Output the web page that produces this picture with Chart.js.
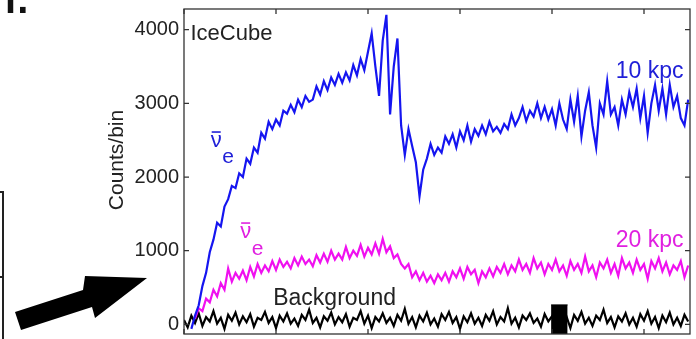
<!DOCTYPE html>
<html lang="en">
<head>
<meta charset="UTF-8">
<title>IceCube counts per bin</title>
<script src="https://cdn.jsdelivr.net/npm/chart.js@4.4.1/dist/chart.umd.min.js"></script>
<style>
    html, body { margin: 0; padding: 0; background: #fff; }
    #wrap { width: 696px; height: 339px; }
</style>
</head>
<body>
<div id="wrap"><canvas id="countsChart" width="696" height="339"></canvas></div>
<script>
// time bins (ms) and axis ranges
const BIN_MS = 4;
const X_MIN = 0;
const X_MAX = 550;
const Y_MIN = -130;
const Y_MAX = 4280;
const yTicks = [0, 1000, 2000, 3000, 4000];
const xTicks = [0, 100, 200, 300, 400, 500];

// anti-nu_e counts per bin, source at 10 kpc
const counts10kpc = [
    null, null, -60, 120, 260, 520, 700, 980, 1150, 1380,
    1330, 1600, 1700, 1880, 1850, 2050, 2000, 2250, 2180, 2400,
    2330, 2600, 2520, 2750, 2650, 2780, 2700, 2900, 2860, 2980,
    2880, 3050, 2950, 3100, 3020, 3050, 3230, 3120, 3300, 3180,
    3350, 3250, 3400, 3280, 3420, 3310, 3520, 3380, 3600, 3450,
    3700, 3950, 3500, 3100, 3850, 4200, 2850, 3500, 3880, 2700,
    2300, 2650, 2420, 2200, 1740, 2100, 2250, 2450, 2300, 2400,
    2330, 2550, 2450, 2580, 2400, 2620, 2500, 2700, 2480, 2650,
    2560, 2700, 2580, 2750, 2620, 2680, 2600, 2720, 2650, 2850,
    2700, 2800, 2950, 2760, 2900, 2820, 3000, 2800, 2950, 2780,
    2920, 2700, 3000, 2780, 2650, 3050, 2750, 3100, 2550, 2900,
    3150, 2700, 2400, 3000, 2850, 3300, 2850, 2950, 2700, 3050,
    2850, 3150, 2950, 3200, 2800, 3100, 2600, 3000, 3250, 2900,
    3200, 2850, 3250, 2950, 3100, 2800, 2700, 3050
];

// anti-nu_e counts per bin, source at 20 kpc
const counts20kpc = [
    null, null, null, 80, 220, 180, 350, 300, 470, 380,
    560, 470, 760, 580, 700, 620, 730, 600, 780, 650,
    820, 700, 800, 720, 860, 740, 880, 780, 850, 760,
    900, 800, 920, 820, 880, 790, 940, 840, 960, 850,
    1000, 880, 960, 880, 1050, 900, 1000, 930, 1080, 920,
    1040, 950, 1100, 960, 1160, 980, 1060, 900, 950, 820,
    760, 820, 640, 720, 600, 700, 580, 660, 560, 680,
    600, 700, 580, 720, 640, 760, 620, 780, 680, 740,
    560, 720, 640, 760, 650, 780, 700, 820, 680, 800,
    720, 880, 740, 820, 700, 900, 760, 840, 680, 820,
    740, 880, 720, 800, 660, 860, 740, 820, 700, 920,
    720, 800, 640, 840, 760, 880, 700, 820, 660, 900,
    760, 840, 700, 880, 740, 820, 620, 860, 760, 900,
    720, 840, 680, 800, 740, 860, 640, 800
];

// detector background counts per bin
const background = [
    60, -40, 120, 20, 150, -20, 100, 40, 180, 10,
    90, -60, 130, 50, 160, 0, 110, 30, 140, -30,
    90, 60, 170, 20, 100, -50, 120, 40, 150, 10,
    80, -20, 130, 60, 200, 20, 90, -40, 110, 50,
    160, 0, 100, 30, 140, -30, 90, 60, 180, 10,
    120, -50, 100, 40, 150, 20, 90, -20, 130, 50,
    210, 10, 100, -40, 120, 40, 160, 0, 80, -30,
    140, 60, 170, 20, 100, -60, 110, 30, 150, 10,
    90, -20, 130, 50, 180, 0, 100, 40, 220, 10,
    90, -40, 120, 60, 150, 20, 80, -30, 140, 40,
    110, 0, 160, 30, 100, -50, 130, 50, 170, 10,
    90, -20, 120, 60, 200, 20, 100, -40, 110, 40,
    150, 0, 90, -30, 140, 50, 180, 10, 100, -50,
    120, 30, 160, 0, 90, -20, 130, 40
];

// solid black block on the background trace
const blockTimes = [399, 417];
const blockLevel = 265;

// text placed in data coordinates (alphabetic baseline); bar = overline
const notes = [
    { text: 'IceCube', x: 7, y: 3860, color: '#222', font: '22px', align: 'left' },
    { text: '10 kpc', x: 543, y: 3345, color: '#2020d8', font: '23px', align: 'right' },
    { text: '20 kpc', x: 543, y: 1055, color: '#e020e0', font: '23px', align: 'right' },
    { text: 'Background', x: 97, y: 263, color: '#222', font: '23px', align: 'left' },
    { text: 'ν', x: 35, y: 2407, color: '#2020d8', font: '22px', align: 'center', bar: true },
    { text: 'e', x: 48, y: 2190, color: '#2020d8', font: '21px', align: 'center' },
    { text: 'ν', x: 67, y: 1172, color: '#e020e0', font: '22px', align: 'center', bar: true },
    { text: 'e', x: 80, y: 942, color: '#e020e0', font: '21px', align: 'center' }
];

const FONT = "'Liberation Sans', Arial, sans-serif";
const TICK_LEN = 5;

const toPoints = (values) => values.map((v, i) => ({ x: i * BIN_MS, y: v }));

const framePlugin = {
    id: 'frame',
    afterDatasetsDraw(chart) {
        const { ctx, chartArea: a, scales: { x, y } } = chart;
        ctx.save();

        // box and inward ticks on all four sides
        ctx.strokeStyle = '#333';
        ctx.lineWidth = 1.3;
        ctx.strokeRect(a.left, a.top, a.right - a.left, a.bottom - a.top);
        ctx.beginPath();
        yTicks.forEach(v => {
            const py = y.getPixelForValue(v);
            ctx.moveTo(a.left, py);
            ctx.lineTo(a.left + TICK_LEN, py);
            ctx.moveTo(a.right, py);
            ctx.lineTo(a.right - TICK_LEN, py);
        });
        xTicks.forEach(v => {
            const px = x.getPixelForValue(v);
            ctx.moveTo(px, a.top);
            ctx.lineTo(px, a.top + TICK_LEN);
            ctx.moveTo(px, a.bottom);
            ctx.lineTo(px, a.bottom - TICK_LEN);
        });
        ctx.stroke();

        // in-plot labels
        ctx.textBaseline = 'alphabetic';
        notes.forEach(n => {
            const px = x.getPixelForValue(n.x);
            const py = y.getPixelForValue(n.y);
            ctx.font = `${n.font} ${FONT}`;
            ctx.fillStyle = n.color;
            ctx.textAlign = n.align;
            ctx.fillText(n.text, px, py);
            if (n.bar) {
                const w = ctx.measureText(n.text).width;
                ctx.strokeStyle = n.color;
                ctx.lineWidth = 1.6;
                ctx.beginPath();
                ctx.moveTo(px - w / 2 + 1, py - 15);
                ctx.lineTo(px + w / 2 - 1, py - 15);
                ctx.stroke();
            }
        });

        // y axis title
        ctx.save();
        ctx.translate(a.left - 67, a.top + 151);
        ctx.rotate(-Math.PI / 2);
        ctx.font = `21px ${FONT}`;
        ctx.fillStyle = '#222';
        ctx.textAlign = 'center';
        ctx.textBaseline = 'middle';
        ctx.fillText('Counts/bin', 0, 0);
        ctx.restore();

        ctx.restore();
    },
    afterDraw(chart) {
        const { ctx } = chart;
        ctx.save();

        // panel letter, mostly cut off at the top
        ctx.fillStyle = '#111';
        ctx.font = `bold 40px ${FONT}`;
        ctx.textAlign = 'left';
        ctx.textBaseline = 'alphabetic';
        ctx.fillText('f.', 4, 13);

        // edge of the neighbouring panel
        ctx.strokeStyle = '#222';
        ctx.lineWidth = 2;
        ctx.beginPath();
        ctx.moveTo(0, 192);
        ctx.lineTo(3, 192);
        ctx.lineTo(3, 339);
        ctx.moveTo(0, 277);
        ctx.lineTo(3, 277);
        ctx.stroke();

        // arrow pointing at the panel
        ctx.fillStyle = '#000';
        ctx.beginPath();
        ctx.moveTo(15, 312);
        ctx.lineTo(83, 290);
        ctx.lineTo(85, 276);
        ctx.lineTo(147, 278);
        ctx.lineTo(95, 318);
        ctx.lineTo(92, 307);
        ctx.lineTo(21, 330);
        ctx.closePath();
        ctx.fill();

        ctx.restore();
    }
};

document.addEventListener('DOMContentLoaded', () => {
    const ctx = document.getElementById('countsChart').getContext('2d');
    Chart.defaults.font.family = FONT;

    new Chart(ctx, {
        type: 'line',
        data: {
            datasets: [
                {
                    label: '10 kpc',
                    data: toPoints(counts10kpc),
                    borderColor: '#1515f0',
                    borderWidth: 2.2,
                    pointRadius: 0,
                    tension: 0
                },
                {
                    label: '20 kpc',
                    data: toPoints(counts20kpc),
                    borderColor: '#f010f0',
                    borderWidth: 2.2,
                    pointRadius: 0,
                    tension: 0
                },
                {
                    label: 'Background',
                    data: toPoints(background),
                    borderColor: '#000',
                    borderWidth: 2.2,
                    pointRadius: 0,
                    tension: 0
                },
                {
                    label: 'block',
                    data: blockTimes.map(t => ({ x: t, y: blockLevel })),
                    borderColor: '#000',
                    backgroundColor: '#000',
                    borderWidth: 1,
                    pointRadius: 0,
                    fill: 'start'
                }
            ]
        },
        options: {
            responsive: false,
            animation: false,
            devicePixelRatio: 1,
            layout: { padding: { left: 0, top: 9, right: 6, bottom: 5 } },
            plugins: {
                legend: { display: false },
                tooltip: { enabled: false }
            },
            scales: {
                x: {
                    type: 'linear',
                    min: X_MIN,
                    max: X_MAX,
                    display: false
                },
                y: {
                    type: 'linear',
                    min: Y_MIN,
                    max: Y_MAX,
                    grid: { display: false, drawTicks: false },
                    border: { display: false },
                    ticks: {
                        color: '#222',
                        padding: 5,
                        font: { size: 20 },
                        callback: (value) => String(value)
                    },
                    afterBuildTicks: (scale) => {
                        scale.ticks = yTicks.map(v => ({ value: v }));
                    },
                    afterFit: (scale) => {
                        scale.width = 184;
                        scale.paddingTop = 0;
                        scale.paddingBottom = 0;
                    }
                }
            }
        },
        plugins: [framePlugin]
    });
});
</script>
</body>
</html>
